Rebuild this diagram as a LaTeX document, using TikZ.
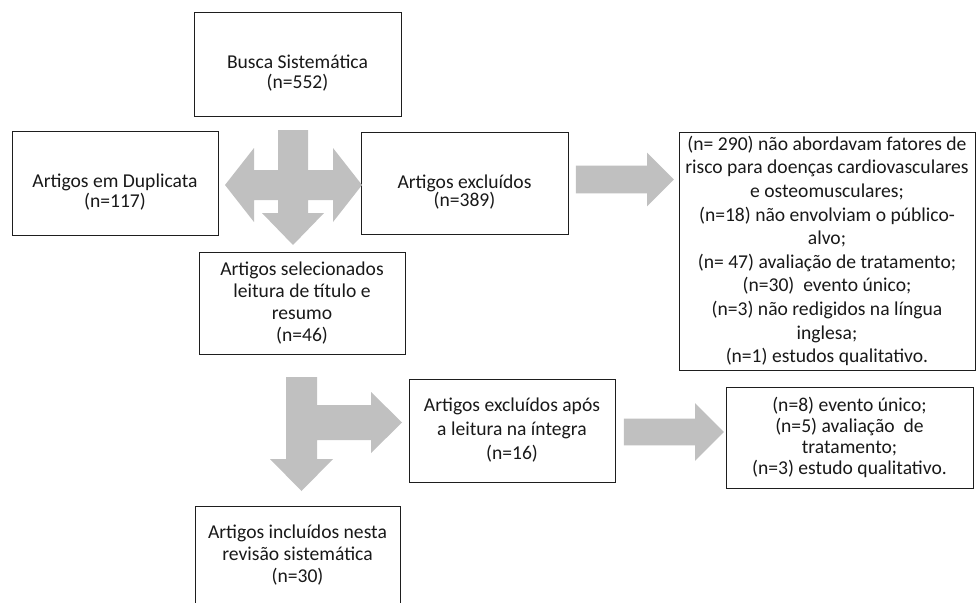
\documentclass[tikz,border=0pt]{standalone}
\usepackage{fontspec}
\setmainfont{Carlito}
\usepackage{tikz}
\usetikzlibrary{calc,shapes.arrows,positioning}
\definecolor{boxline}{RGB}{30,30,30}
\definecolor{arrowgrey}{RGB}{192,192,192}
\newcommand\px{0.75pt}
\newcommand\topgap{\rule{0pt}{24pt}}
\tikzset{
	box/.style={draw=boxline, line width=\px, fill=white, inner sep=0pt,
		align=center, text=black!90, font=\fontsize{14.7}{18}\selectfont},
	bskip/.style={font=\fontsize{14.7}{#1}\selectfont},
	bw/.style={minimum width=#1*\px},
	bh/.style={minimum height=#1*\px},
	flowarrow/.style 2 args={single arrow, fill=arrowgrey, draw=none, inner xsep=0pt,
		inner ysep=#1*\px/2, single arrow head extend=#2*\px, anchor=tail},
	bigarrow/.style={fill=arrowgrey, draw=none}
}

\begin{document}
\begin{tikzpicture}[x=\px, y=-\px]
	\fill[white] (0,0) rectangle (976,603);
	\clip (0,0) rectangle (976,603);
	% caixas
	\node[box, bw=207, bh=104, bskip=15] (busca) at (297.5,64) {\topgap Busca Sistemática\\(n=552)};
	\node[box, bw=206, bh=104, bskip=15] (dup) at (115,183) {\topgap Artigos em Duplicata\\(n=117)};
	\node[box, bw=207, bh=102, bskip=14] (excl) at (464.5,183) {\topgap Artigos excluídos\\(n=389)};
	\node[box, bw=296, bh=238, bskip=17.7] (motivos) at (827,251)
		{(n= 290) não abordavam fatores de\\risco para doenças cardiovasculares\\e osteomusculares;\\(n=18) não envolviam o público-\\alvo;\\(n= 47) avaliação de tratamento;\\(n=30)\ \ evento único;\\(n=3) não redigidos na língua\\inglesa;\\(n=1) estudos qualitativo.};
	\node[box, bw=206, bh=102, bskip=16.5] (selec) at (302,303) {Artigos selecionados\\leitura de título e\\resumo\\(n=46)};
	\node[box, bw=206, bh=103, bskip=18] (apos) at (512,430.5) {Artigos excluídos após\\a leitura na íntegra\\(n=16)};
	\node[box, bw=247, bh=101, bskip=15.75] (motivos2) at (849.5,437.5) {(n=8) evento único;\\(n=5) avaliação\ \ de\\tratamento;\\(n=3) estudo qualitativo.};
	\node[box, bw=205, bh=98, bskip=16.25] (incl) at (297.5,555) {Artigos incluídos nesta\\revisão sistemática\\(n=30)};
	% setas
	\coordinate (cruz) at (293,185);
	\fill[bigarrow, shift={(cruz)}] (-15,-55) -- (15,-55) -- (15,-15) -- (40,-15) -- (40,-37) -- (69,0)
		-- (40,37) -- (40,15) -- (15,15) -- (15,28) -- (31,28) -- (0,60) -- (-31,28) -- (-15,28)
		-- (-15,15) -- (-39,15) -- (-39,37) -- (-68,0) -- (-39,-37) -- (-39,-15) -- (-15,-15) -- cycle;
	\coordinate (tee) at (301.5,422.5);
	\fill[bigarrow, shift={(tee)}] (-15.5,-45.5) -- (15.5,-45.5) -- (15.5,-17.5) -- (69.5,-17.5) -- (69.5,-30.5)
		-- (100.5,0) -- (69.5,30.5) -- (69.5,17.5) -- (15.5,17.5) -- (15.5,36.5) -- (31.5,36.5) -- (0,68.5)
		-- (-31.5,36.5) -- (-15.5,36.5) -- cycle;
	\node[flowarrow={27}{13}, minimum height=98*\px] (seta1) at ($(excl.east)+(7,-3.5)$) {};
	\node[flowarrow={26}{15.5}, minimum height=100*\px] (seta2) at ($(apos.east)+(8,1.5)$) {};
\end{tikzpicture}
\end{document}
